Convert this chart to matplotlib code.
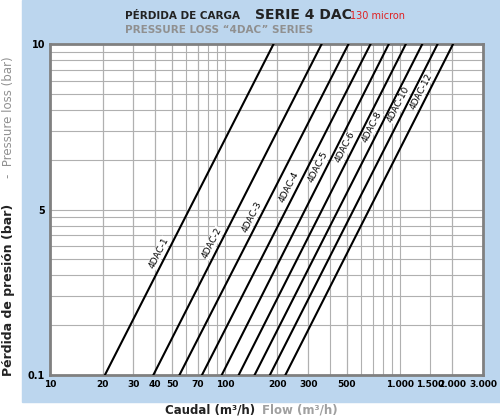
import matplotlib
matplotlib.use("Agg")
import matplotlib.pyplot as plt
import numpy as np
from matplotlib.patches import Rectangle

labels = ["4DAC-1","4DAC-2","4DAC-3","4DAC-4","4DAC-5","4DAC-6","4DAC-8","4DAC-10","4DAC-12"]
q_low = [20.6, 39, 55, 74, 96, 120, 148, 181, 222]      # flow at 0.1 bar
q_high = [190, 358, 510, 682, 867, 1085, 1348, 1649, 2022]  # flow at 10 bar
label_frac = [0.36, 0.39, 0.47, 0.56, 0.62, 0.68, 0.74, 0.81, 0.85]
xticks = [10, 20, 30, 40, 50, 70, 100, 200, 300, 500, 1000, 1500, 2000, 3000]
xticklabels = ["10","20","30","40","50","70","100","200","300","500","1.000","1.500","2.000","3.000"]
yticks = [0.1, 1, 10]
yticklabels = ["0.1", "5", "10"]

fig = plt.figure(figsize=(5, 4.2), dpi=100)
fig.patches.append(Rectangle((22/500, 1-402/420), 478/500, 402/420, transform=fig.transFigure,
                             color="#bcd6ee", zorder=-10))
ax = fig.add_axes([0.1, 0.107, 0.866, 0.788])
ax.set_xscale("log"); ax.set_yscale("log")
ax.set_xlim(10, 3000); ax.set_ylim(0.1, 10)
ax.set_facecolor("white")
ax.grid(True, which="both", color="#b0b0b0", lw=0.8)
for s in ax.spines.values():
    s.set_color("#808080"); s.set_linewidth(2)
ax.tick_params(which="both", length=0)
ax.set_xticks(xticks); ax.set_xticklabels(xticklabels, fontsize=6.5, fontweight="bold")
ax.set_xticks([], minor=True)
ax.set_yticks(yticks); ax.set_yticklabels(yticklabels, fontsize=7, fontweight="bold")
ax.set_yticks([], minor=True)
minor_x = [v*m for v in (10, 100, 1000) for m in range(2, 10) if v*m < 3000]
for v in minor_x:
    ax.axvline(v, color="#b0b0b0", lw=0.8, zorder=0)
for v in [0.2,0.3,0.4,0.5,0.6,0.7,0.8,0.9,2,3,4,5,6,7,8,9]:
    ax.axhline(v, color="#b0b0b0", lw=0.8, zorder=0)

for lab, a, b, f in zip(labels, q_low, q_high, label_frac):
    ax.plot([a, b], [0.1, 10], color="black", lw=1.5, zorder=3)
    x = 10**(np.log10(a) + f*(np.log10(b)-np.log10(a)))
    y = 10**(-1 + 2*f)
    ax.annotate(lab, (x, y), xytext=(-5, 2), textcoords="offset points", rotation=63,
                ha="center", va="center", fontsize=6.5, zorder=4,
                bbox=dict(boxstyle="square,pad=0.05", fc="white", ec="none"))

fig.text(0.25, 0.955, "PÉRDIDA DE CARGA", fontsize=7.5, fontweight="bold", color="#222222")
fig.text(0.51, 0.955, "SERIE 4 DAC", fontsize=10, fontweight="bold", color="#222222")
fig.text(0.70, 0.955, "130 micron", fontsize=7, color="#e02020")
fig.text(0.25, 0.922, "PRESSURE LOSS “4DAC” SERIES", fontsize=7.5, fontweight="bold", color="#909090")
fig.text(0.42, 0.015, "Caudal (m³/h)", fontsize=8.5, fontweight="bold", color="#222222", ha="center")
fig.text(0.6, 0.015, "Flow (m³/h)", fontsize=8.5, fontweight="bold", color="#a0a0a0", ha="center")
fig.text(0.018, 0.31, "Pérdida de presión (bar)", fontsize=9, fontweight="bold", color="#222222",
         rotation=90, ha="center", va="center")
fig.text(0.018, 0.72, "-  Pressure loss (bar)", fontsize=8.5, color="#909090",
         rotation=90, ha="center", va="center")
fig.savefig("out.png", dpi=100)
